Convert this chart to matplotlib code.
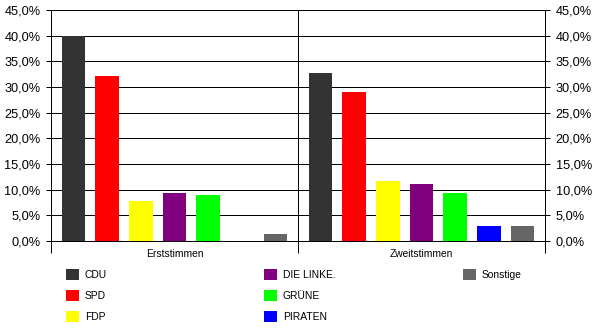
import numpy as np
import matplotlib
matplotlib.use("Agg")
import matplotlib.pyplot as plt
from matplotlib.patches import Patch
from matplotlib.ticker import FuncFormatter, MultipleLocator

plt.rcParams['font.family'] = ['Liberation Sans', 'DejaVu Sans']

categories = ["Erststimmen", "Zweitstimmen"]
parties = ["CDU", "SPD", "FDP", "DIE LINKE.", "GRÜNE", "PIRATEN", "Sonstige"]
erststimmen = [40.0, 32.1, 7.8, 9.4, 8.9, np.nan, 1.3]
zweitstimmen = [32.8, 29.0, 11.6, 11.1, 9.4, 2.9, 2.9]
colors = ["#333333", "#ff0000", "#ffff00", "#800080", "#00ff00", "#0000ff", "#666666"]

fig = plt.figure(figsize=(6, 3.33), dpi=100)
ax = fig.add_axes([51/600, 1-241/333, (545-51)/600, (241-10)/333])

x = np.arange(len(categories))
pitch = 0.1364
width = 0.096
handles = []
for i, p in enumerate(parties):
    vals = [erststimmen[i], zweitstimmen[i]]
    ax.bar(x + (i-3)*pitch, vals, width=width, color=colors[i], label=p, zorder=3)
    handles.append(Patch(facecolor=colors[i], label=p))

lw = 0.72
ax.set_xlim(-0.5, 1.5)
ax.set_ylim(0, 45)
ax.yaxis.set_major_locator(MultipleLocator(5))
ax.yaxis.set_major_formatter(FuncFormatter(lambda v, pos: f"{v:.1f}%".replace('.', ',')))
ax.yaxis.grid(True, color='black', linewidth=lw, zorder=1)
ax.set_axisbelow(True)
ax.axvline(0.5, color='black', linewidth=lw, zorder=2)

ax.set_xticks([-0.5, 0.5, 1.5])
ax.set_xticklabels([])
ax.set_xticks(x, minor=True)
ax.set_xticklabels(categories, minor=True)
ax.tick_params(axis='x', which='major', length=8.6, width=lw, direction='out', color='black')
ax.tick_params(axis='x', which='minor', length=0, pad=6, labelsize=7.4)
ax.tick_params(axis='y', which='major', length=3.6, width=lw, direction='out',
               left=True, right=True, labelleft=True, labelright=True, labelsize=9.2, pad=4)

for s in ['left', 'right', 'bottom']:
    ax.spines[s].set_linewidth(lw)
    ax.spines[s].set_color('black')
ax.spines['top'].set_visible(False)

col_x = [66/600, 264/600, 463/600]
groups = [handles[0:3], handles[3:6], handles[6:7]]
for cx, hs in zip(col_x, groups):
    fig.legend(handles=hs, loc='upper left', bbox_to_anchor=(cx, 1-269/333),
               frameon=False, fontsize=7.4, borderpad=0, borderaxespad=0,
               handlelength=1.28, handleheight=1.28, handletextpad=0.55,
               labelspacing=0.97)

fig.savefig("out.png", dpi=100)
